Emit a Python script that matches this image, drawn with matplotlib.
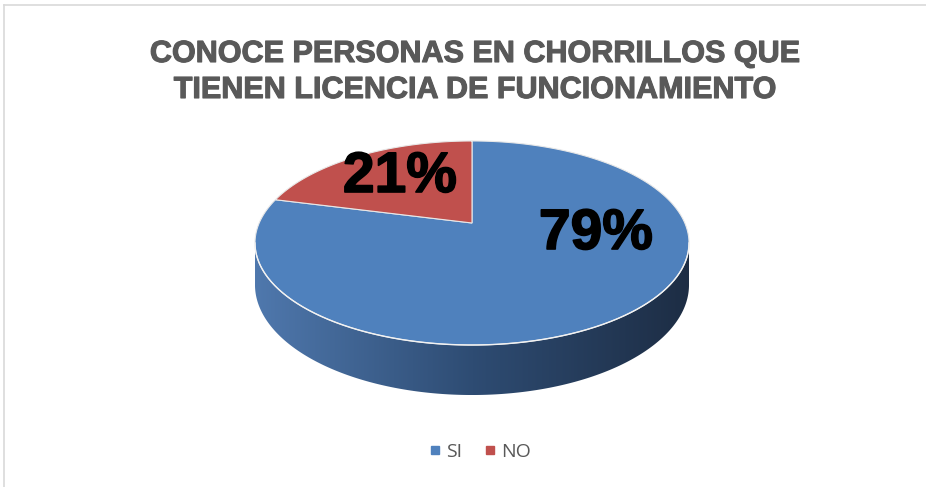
import numpy as np
import matplotlib.pyplot as plt
import matplotlib.patheffects as pe
from matplotlib.colors import LinearSegmentedColormap
from matplotlib.lines import Line2D
from matplotlib.patches import Polygon

# data
labels = ["SI", "NO"]
values = [79, 21]
colors = ["#4f81bd", "#c0504d"]
pct_labels = ["79%", "21%"]
title_lines = ["CONOCE PERSONAS EN CHORRILLOS QUE", "TIENEN LICENCIA DE FUNCIONAMIENTO"]

# layout (pixel space of the 926x487 picture)
W, H = 926, 487
cx, cy = 472, 223          # projected pie center
A, B, K = 212.8, 98.1, 0.196   # half width, half depth, perspective
D = 40.2                   # thickness of the pie
label_pos = [(596, 249), (400, 192)]

def proj(phi, r=1.0, drop=0.0):
    u, v = r * np.cos(phi), r * np.sin(phi)
    f = 1.0 / (1.0 + K * v)
    return cx + A * u * f, cy - B * v * f + drop * f

fig = plt.figure(figsize=(W / 100, H / 100), dpi=100)
ax = fig.add_axes([0, 0, 1, 1])
ax.set_xlim(0, W)
ax.set_ylim(H, 0)
ax.axis("off")

# chart border (only top and left visible in the crop)
ax.plot([4, W], [5, 5], color="#d9d9d9", lw=1.2)
ax.plot([4, 4], [5, H], color="#d9d9d9", lw=1.2)

# slice angles: start at 12 o'clock, go clockwise
fracs = np.array(values, dtype=float) / sum(values)
starts = np.pi / 2 - 2 * np.pi * np.concatenate([[0], np.cumsum(fracs)[:-1]])
ends = starts - 2 * np.pi * fracs

# side wall (front half only) with horizontal shading
side_cmap = LinearSegmentedColormap.from_list("side", ["#4f78ad", "#2e4c73", "#1d2d44"])
a0 = np.pi + np.arcsin(K)
a1 = 2 * np.pi - np.arcsin(K)
phis = np.linspace(a0, a1, 300)
xt, yt = proj(phis)
xb, yb = proj(phis, drop=D)
side = Polygon(np.c_[np.r_[xt, xb[::-1]], np.r_[yt, yb[::-1]]], closed=True,
               fc="none", ec="none")
ax.add_patch(side)
grad = np.linspace(0, 1, 256)[None, :]
im = ax.imshow(grad, cmap=side_cmap, aspect="auto",
               extent=[xt.min(), xt.max(), yb.max(), yt.min()], zorder=1)
im.set_clip_path(side)

# top face
for s, e, c in zip(starts, ends, colors):
    ph = np.linspace(s, e, 300)
    xs, ys = proj(ph)
    ax.fill(np.r_[cx, xs], np.r_[cy, ys], color=c, ec="#e8e8e8", lw=0.8, zorder=2)

# light edge between top face and side
ax.plot(xt, yt, color="#f2f2f2", lw=1.0, zorder=3)

# data labels
for (lx, ly), txt in zip(label_pos, pct_labels):
    ax.text(lx, ly, txt, ha="center", va="baseline", fontsize=41,
            fontweight="bold", family="Liberation Sans", color="black", zorder=4,
            path_effects=[pe.withStroke(linewidth=1.2, foreground="black")])

# title
for i, line in enumerate(title_lines):
    ax.text(474, 62 + 36 * i, line, ha="center", va="baseline", fontsize=22,
            fontweight="bold", family="Liberation Sans", color="#595959",
            path_effects=[pe.withStroke(linewidth=0.8, foreground="#595959")])

# legend
handles = [Line2D([], [], marker="s", ls="", color=c, markersize=6) for c in colors]
fig.legend(handles, labels, loc="center", bbox_to_anchor=(478 / W, 1 - 452 / H),
           ncol=2, frameon=False, handletextpad=0.1, columnspacing=0.9,
           handlelength=1.0, prop={"family": "Open Sans", "size": 14},
           labelcolor="#595959")

fig.savefig("out.png", dpi=100)
